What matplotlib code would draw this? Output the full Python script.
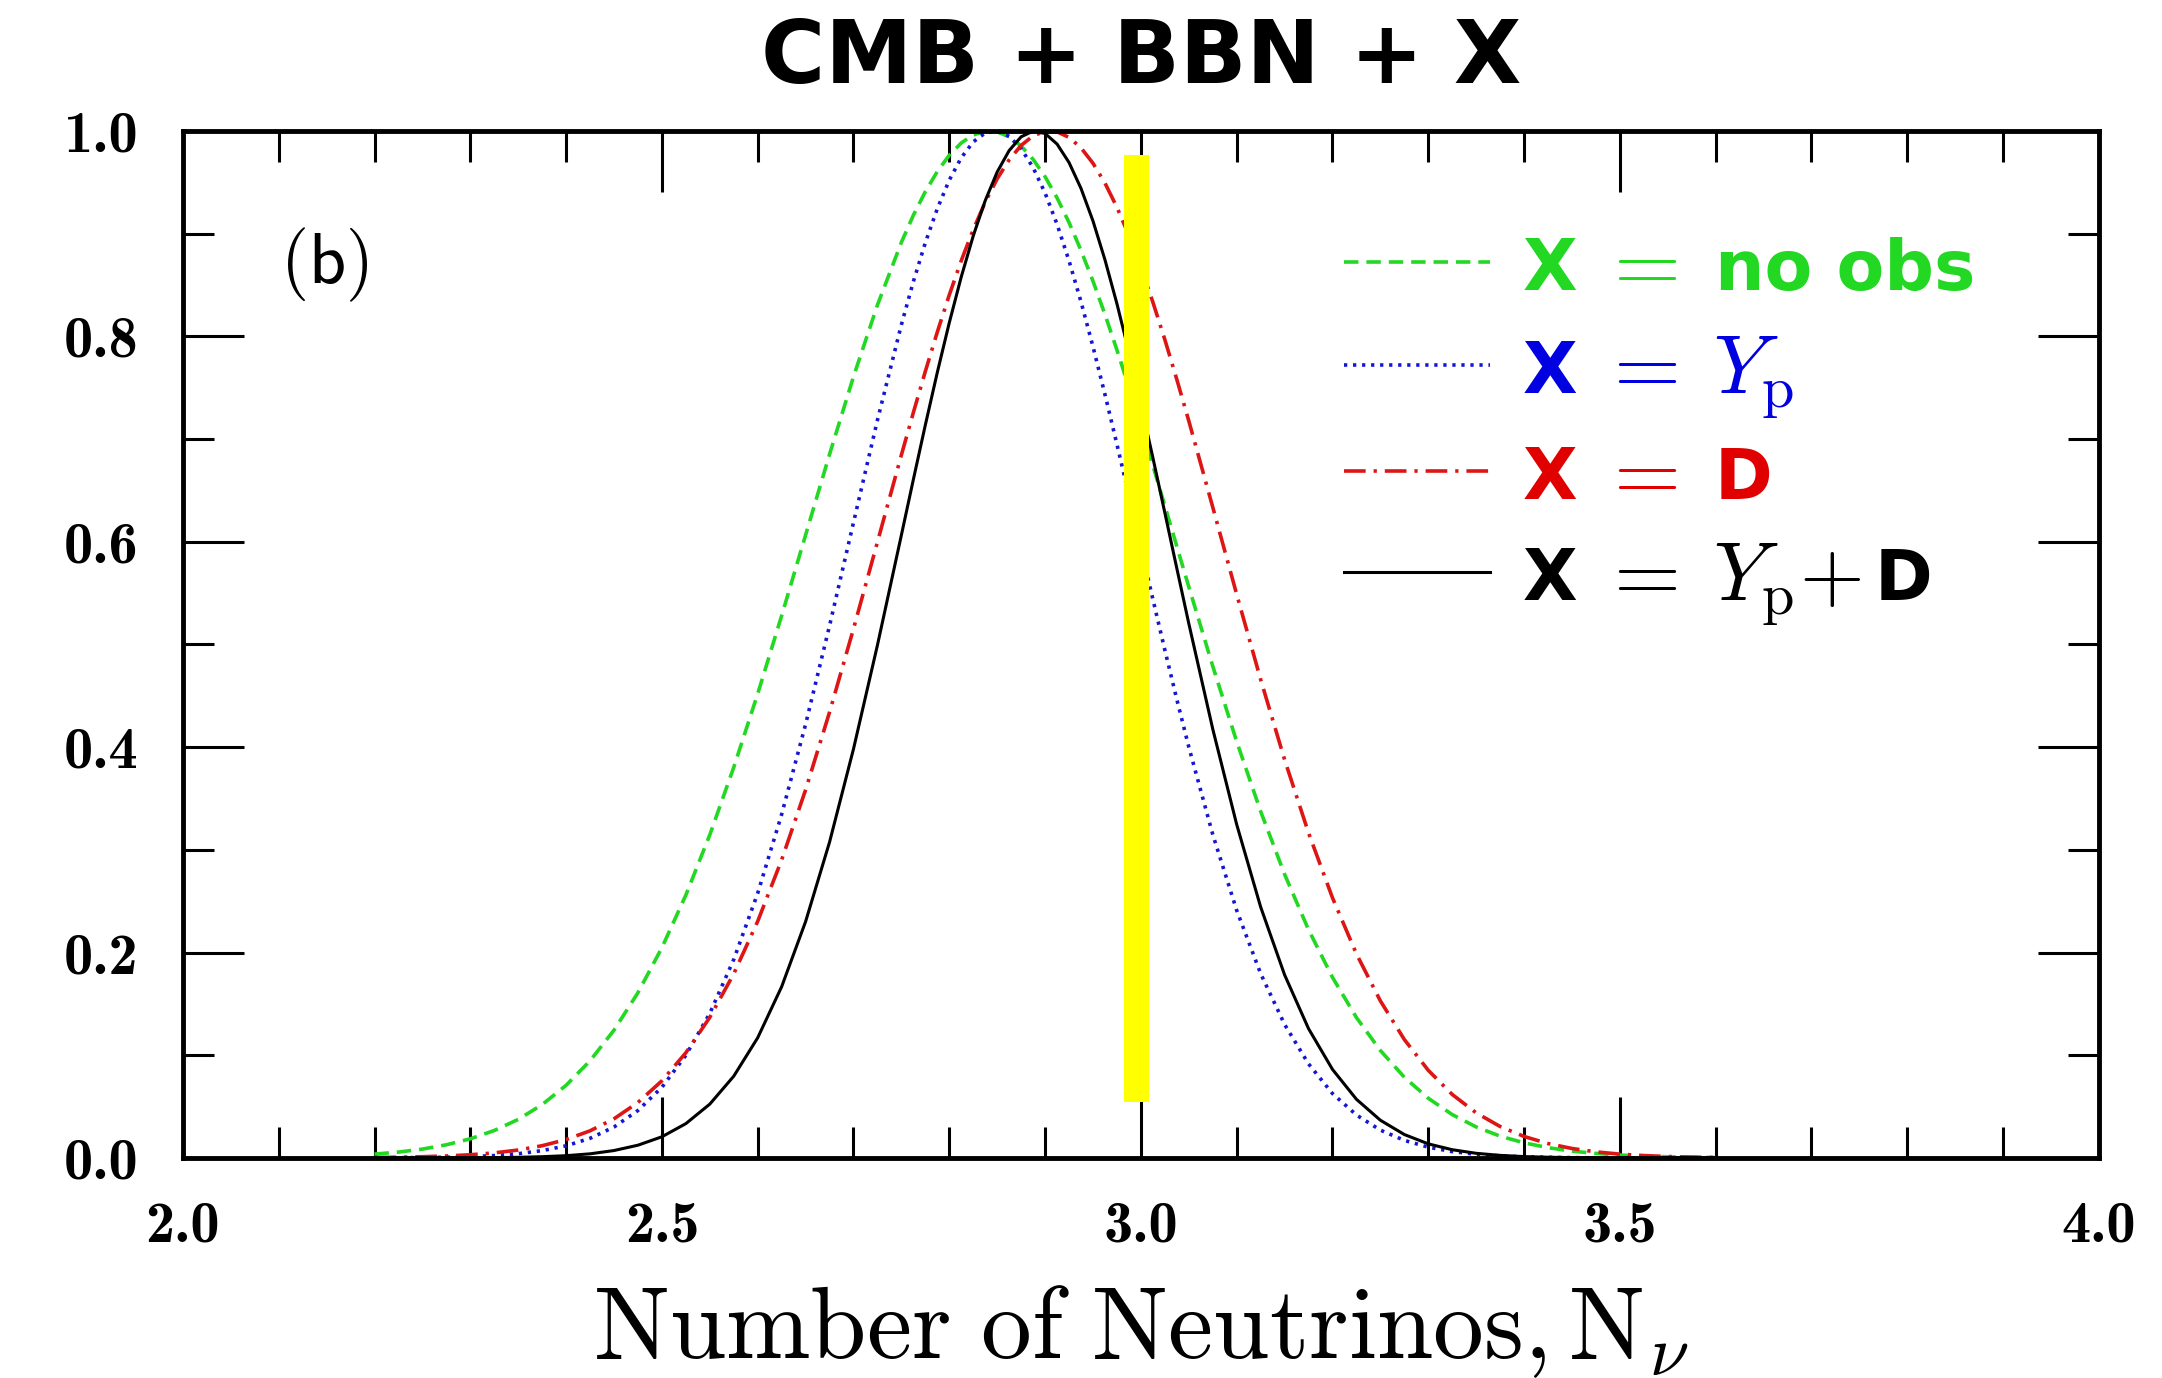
import numpy as np
import matplotlib
matplotlib.use("Agg")
import matplotlib.pyplot as plt
from matplotlib.ticker import FixedLocator, FixedFormatter, MultipleLocator
from matplotlib.lines import Line2D

plt.rcParams['mathtext.fontset'] = 'cm'
plt.rcParams['font.family'] = ['DejaVu Sans']

# Number of neutrinos: coarse sampling of the likelihood curves
n_nu = [2.200, 2.225, 2.250, 2.275, 2.300, 2.325, 2.350, 2.375, 2.400, 2.425,
        2.450, 2.475, 2.500, 2.525, 2.550, 2.575, 2.600, 2.625, 2.650, 2.675,
        2.700, 2.725, 2.750, 2.775, 2.800, 2.825, 2.850, 2.875, 2.900, 2.925,
        2.950, 2.975, 3.000, 3.025, 3.050, 3.075, 3.100, 3.125, 3.150, 3.175,
        3.200, 3.225, 3.250, 3.275, 3.300, 3.325, 3.350, 3.375, 3.400, 3.425,
        3.450, 3.475, 3.500, 3.525, 3.550, 3.575, 3.600]

# Extra samples around the peaks
n_nu_peak = [2.7625, 2.7875, 2.8125, 2.8375, 2.8625, 2.8875,
             2.9125, 2.9375, 2.9625, 2.9875, 3.0125, 3.0375]

# Normalised likelihoods, CMB + BBN + X
like_noobs = [0.0037, 0.0057, 0.0086, 0.0128, 0.0186, 0.0267, 0.0375, 0.0519, 0.0707, 0.0946,
              0.1244, 0.1609, 0.2047, 0.2559, 0.3146, 0.3803, 0.4519, 0.5280, 0.6065, 0.6851,
              0.7607, 0.8305, 0.8915, 0.9409, 0.9764, 0.9961, 0.9991, 0.9853, 0.9554, 0.9108,
              0.8537, 0.7867, 0.7128, 0.6350, 0.5561, 0.4789, 0.4054, 0.3375, 0.2762, 0.2222,
              0.1758, 0.1367, 0.1046, 0.0786, 0.0581, 0.0422, 0.0302, 0.0212, 0.0147, 0.0100,
              0.0066, 0.0044, 0.0028, 0.0018, 0.0011, 0.0007, 0.0004]
like_noobs_peak = [0.9179, 0.9605, 0.9883, 0.9997, 0.9943, 0.9723,
                   0.9348, 0.8836, 0.8213, 0.7504, 0.6741, 0.5955]

like_yp = [0.0001, 0.0002, 0.0004, 0.0007, 0.0013, 0.0023, 0.0041, 0.0071, 0.0118, 0.0191,
           0.0301, 0.0462, 0.0688, 0.0999, 0.1408, 0.1932, 0.2577, 0.3345, 0.4222, 0.5182,
           0.6187, 0.7184, 0.8113, 0.8912, 0.9521, 0.9893, 0.9998, 0.9827, 0.9395, 0.8735,
           0.7899, 0.6948, 0.5944, 0.4946, 0.4002, 0.3150, 0.2411, 0.1795, 0.1300, 0.0916,
           0.0627, 0.0418, 0.0271, 0.0171, 0.0105, 0.0062, 0.0036, 0.0020, 0.0011, 0.0006,
           0.0003, 0.0001, 0.0001, 0.0, 0.0, 0.0, 0.0]
like_yp_peak = [0.8533, 0.9243, 0.9739, 0.9980, 0.9947, 0.9642,
                0.9091, 0.8336, 0.7434, 0.6449, 0.5441, 0.4465]

like_d = [0.0004, 0.0007, 0.0012, 0.0019, 0.0031, 0.0049, 0.0077, 0.0119, 0.0179, 0.0264,
          0.0381, 0.0540, 0.0751, 0.1024, 0.1369, 0.1793, 0.2304, 0.2902, 0.3584, 0.4340,
          0.5152, 0.5997, 0.6845, 0.7659, 0.8403, 0.9039, 0.9534, 0.9859, 0.9996, 0.9937,
          0.9685, 0.9256, 0.8673, 0.7968, 0.7177, 0.6337, 0.5488, 0.4659, 0.3878, 0.3165,
          0.2533, 0.1987, 0.1529, 0.1153, 0.0853, 0.0618, 0.0439, 0.0306, 0.0209, 0.0140,
          0.0092, 0.0059, 0.0037, 0.0023, 0.0014, 0.0008, 0.0005]
like_d_peak = [0.7258, 0.8042, 0.8737, 0.9306, 0.9719, 0.9952,
               0.9991, 0.9835, 0.9492, 0.8982, 0.8333, 0.7580]

like_yp_d = [0.0, 0.0, 0.0, 0.0001, 0.0001, 0.0003, 0.0006, 0.0012, 0.0022, 0.0040,
             0.0072, 0.0124, 0.0206, 0.0334, 0.0524, 0.0796, 0.1170, 0.1667, 0.2301, 0.3075,
             0.3982, 0.4993, 0.6065, 0.7137, 0.8133, 0.8978, 0.9600, 0.9943, 0.9975, 0.9692,
             0.9123, 0.8317, 0.7344, 0.6282, 0.5204, 0.4177, 0.3247, 0.2444, 0.1783, 0.1259,
             0.0862, 0.0571, 0.0367, 0.0228, 0.0137, 0.0080, 0.0045, 0.0025, 0.0013, 0.0007,
             0.0003, 0.0002, 0.0001, 0.0, 0.0, 0.0, 0.0]
like_yp_d_peak = [0.6606, 0.7649, 0.8579, 0.9321, 0.9809, 0.9998,
                  0.9872, 0.9440, 0.8745, 0.7847, 0.6819, 0.5741]

# Legend entries: value shown after "X ="
legend_values = [('no obs', None), (None, r'$Y_{\mathrm{p}}$'), ('D', None),
                 (None, r'$Y_{\mathrm{p}}{+}$')]

x_ticks = [2.0, 2.5, 3.0, 3.5, 4.0]
x_tick_labels = ['2.0', '2.5', '3.0', '3.5', '4.0']
y_ticks = [0.0, 0.2, 0.4, 0.6, 0.8, 1.0]
y_tick_labels = ['0.0', '0.2', '0.4', '0.6', '0.8', '1.0']

# Highlighted band near N_nu = 3
band_center = 2.995
band_width = 0.026
band_bottom = 0.054
band_top = 0.977

green = '#22d822'
blue = '#1515d5'
red = '#dd1515'
black = '#000000'


def merged(xc, yc, xp, yp):
    x = np.concatenate([xc, xp])
    y = np.concatenate([yc, yp])
    order = np.argsort(x)
    return x[order], y[order]


fig = plt.figure(figsize=(21.62, 13.78), dpi=100)
ax = fig.add_axes([0.0846, 0.1597, 0.8862, 0.7453])

lw = 2.6
style_noobs = dict(color=green, lw=lw, dashes=(4.0, 2.2))
style_yp = dict(color=blue, lw=lw, dashes=(0.9, 1.6))
style_d = dict(color=red, lw=lw, dashes=(6.0, 2.2, 0.9, 2.2))
style_ypd = dict(color=black, lw=2.2)

for yc, yp, st in [(like_noobs, like_noobs_peak, style_noobs),
                   (like_yp, like_yp_peak, style_yp),
                   (like_d, like_d_peak, style_d),
                   (like_yp_d, like_yp_d_peak, style_ypd)]:
    xs, ys = merged(n_nu, yc, n_nu_peak, yp)
    ax.plot(xs, ys, solid_joinstyle='round', **st)

ax.bar([band_center], [band_top - band_bottom], bottom=band_bottom,
       width=band_width, color='#ffff00', zorder=5, linewidth=0)

ax.set_xlim(2.0, 4.0)
ax.set_ylim(0.0, 1.0)

ax.xaxis.set_major_locator(FixedLocator(x_ticks))
ax.xaxis.set_major_formatter(FixedFormatter(x_tick_labels))
ax.xaxis.set_minor_locator(MultipleLocator(0.1))
ax.yaxis.set_major_locator(FixedLocator(y_ticks))
ax.yaxis.set_major_formatter(FixedFormatter(y_tick_labels))
ax.yaxis.set_minor_locator(MultipleLocator(0.1))
for lab in ax.get_xticklabels() + ax.get_yticklabels():
    lab.set_fontfamily('cmb10')

ax.tick_params(which='both', direction='in', top=True, right=True, width=2.2, color='black')
ax.tick_params(which='major', length=44)
ax.tick_params(which='minor', length=22)
ax.tick_params(axis='x', which='major', pad=31, labelsize=42)
ax.tick_params(axis='y', which='major', pad=32, labelsize=42)
for sp in ax.spines.values():
    sp.set_linewidth(3.5)

# Legend drawn as line samples plus coloured labels
line_styles = [style_noobs, style_yp, style_d, style_ypd]
text_colors = [green, '#0000e0', '#e00000', black]
row_y = [0.8725, 0.7718, 0.6685, 0.5705]
for (txt, mth), st, tc, yy in zip(legend_values, line_styles, text_colors, row_y):
    ax.add_line(Line2D([0.606, 0.682], [yy, yy], transform=ax.transAxes, **st))
    base = yy - 0.027
    ax.text(0.6995, base, 'X', transform=ax.transAxes, color=tc,
            fontsize=51, fontweight='bold', va='baseline', ha='left')
    ax.text(0.7385, base, '$=$', transform=ax.transAxes, color=tc,
            fontsize=62, va='baseline', ha='left')
    if mth is not None:
        ax.text(0.7985, base, mth, transform=ax.transAxes, color=tc,
                fontsize=60, va='baseline', ha='left')
    if txt is not None:
        ax.text(0.7995, base, txt, transform=ax.transAxes, color=tc,
                fontsize=50, fontweight='bold', va='baseline', ha='left')
    if mth is not None and '+' in mth:
        ax.text(0.8830, base, 'D', transform=ax.transAxes, color=tc,
                fontsize=50, fontweight='bold', va='baseline', ha='left')

ax.text(0.0506, 0.8695, r'$\mathsf{(b)}$', transform=ax.transAxes,
        fontsize=52, va='center', ha='left')

fig.text(0.5278, 0.957, 'CMB + BBN + X', fontsize=63, fontweight='bold',
         ha='center', va='center')
fig.text(0.5278, 0.0145, r'$\mathrm{Number\ of\ Neutrinos,N}_{\nu}$',
         fontsize=73, ha='center', va='baseline')

fig.savefig('out.png', dpi=100)
